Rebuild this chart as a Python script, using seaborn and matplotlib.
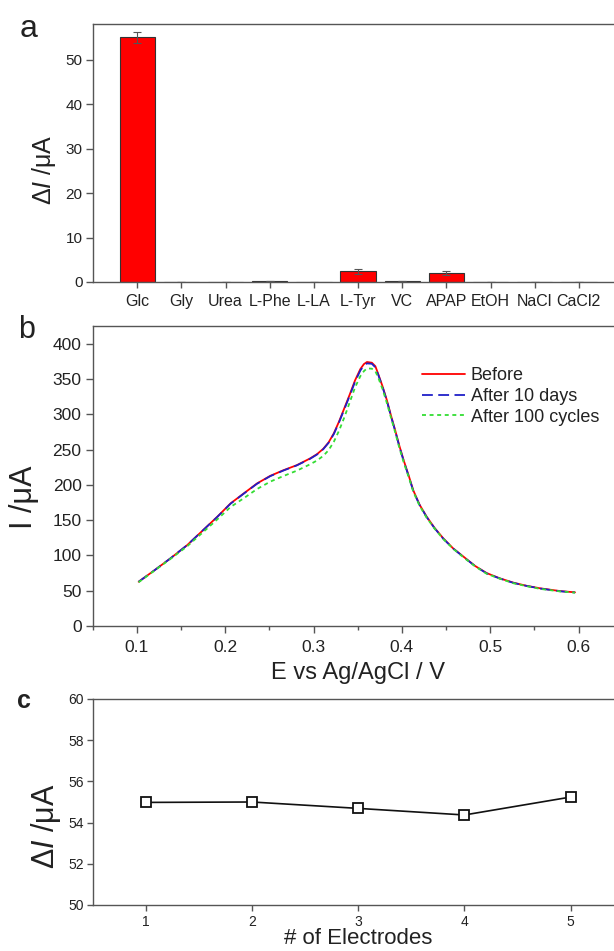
import numpy as np
import pandas as pd
import matplotlib
matplotlib.use("Agg")
import matplotlib.pyplot as plt
import seaborn as sns
from matplotlib.ticker import MultipleLocator

# ---------------- data ----------------
# panel a: selectivity
species = ["Glc", "Gly", "Urea", "L-Phe", "L-LA", "L-Tyr", "VC", "APAP", "EtOH", "NaCl", "CaCl2"]
delta_i = [55.0, 0.1, 0.1, 0.3, 0.1, 2.4, 0.2, 2.0, 0.1, 0.0, 0.0]
delta_i_err = [1.3, 0.0, 0.0, 0.0, 0.0, 0.5, 0.0, 0.4, 0.0, 0.0, 0.0]

# panel b: stability curves
potential = [0.102, 0.120, 0.138, 0.157, 0.175, 0.191, 0.206, 0.221, 0.236, 0.251,
             0.266, 0.281, 0.296, 0.304, 0.311, 0.317, 0.323, 0.329, 0.335, 0.341,
             0.347, 0.353, 0.357, 0.3605, 0.366, 0.370, 0.3735, 0.378, 0.383, 0.3875,
             0.3925, 0.397, 0.402, 0.408, 0.413, 0.420, 0.428, 0.437, 0.447, 0.458,
             0.470, 0.483, 0.496, 0.511, 0.5265, 0.541, 0.557, 0.579, 0.596]
current_before = [62.7, 79.0, 95.8, 114.6, 135.8, 154.7, 173.6, 187.8, 201.9, 212.7,
                  220.7, 227.8, 237.3, 243.5, 251.0, 260.0, 273.0, 290.0, 309.0, 328.0,
                  348.0, 364.0, 371.0, 374.0, 373.0, 368.0, 356.0, 340.0, 320.0, 299.0,
                  277.0, 256.0, 235.0, 212.0, 192.0, 172.0, 155.0, 139.0, 124.0, 110.0,
                  98.0, 85.0, 75.0, 67.5, 61.3, 57.0, 53.3, 49.5, 47.7]
current_10days = [62.7, 79.0, 95.8, 114.6, 135.8, 154.5, 173.2, 187.5, 201.5, 212.3,
                  220.3, 227.5, 236.8, 243.0, 250.5, 259.5, 272.0, 289.0, 307.5, 326.5,
                  346.0, 362.0, 369.0, 372.0, 371.5, 366.5, 355.0, 339.0, 319.0, 298.0,
                  276.0, 255.0, 234.0, 211.0, 191.0, 171.5, 154.5, 138.5, 123.5, 109.8,
                  97.5, 84.8, 74.5, 67.2, 61.0, 56.8, 53.0, 49.2, 47.5]
current_100cycles = [62.0, 78.5, 95.0, 113.0, 133.0, 151.0, 168.5, 181.0, 194.0, 204.5,
                     212.5, 220.0, 229.0, 234.5, 241.0, 249.0, 261.0, 277.0, 296.0, 317.0,
                     338.0, 354.0, 361.0, 365.0, 364.5, 361.0, 351.0, 336.0, 316.0, 296.0,
                     274.0, 253.0, 232.0, 210.0, 190.0, 170.5, 153.5, 138.0, 123.0, 109.5,
                     97.0, 84.5, 74.0, 67.0, 60.5, 56.5, 52.5, 49.0, 47.3]

# panel c: reproducibility
electrodes = [1, 2, 3, 4, 5]
delta_i_electrodes = [54.98, 55.0, 54.69, 54.37, 55.24]

# ---------------- style ----------------
sns.set_style("ticks")
plt.rcParams["font.family"] = ["Liberation Sans", "DejaVu Sans"]
plt.rcParams["mathtext.fontset"] = "custom"
plt.rcParams["mathtext.rm"] = "Liberation Sans"
plt.rcParams["mathtext.it"] = "Liberation Sans:italic"
plt.rcParams["axes.edgecolor"] = "#555555"
plt.rcParams["axes.linewidth"] = 1.0
plt.rcParams["xtick.color"] = "#555555"
plt.rcParams["ytick.color"] = "#555555"
plt.rcParams["xtick.labelcolor"] = "#222222"
plt.rcParams["ytick.labelcolor"] = "#222222"
plt.rcParams["text.color"] = "#222222"

W, H = 614, 951
fig = plt.figure(figsize=(W / 100, H / 100), dpi=100)

def box(left, top, width, height):
    return [left / W, 1 - (top + height) / H, width / W, height / H]

# ---------------- panel a ----------------
ax_a = fig.add_axes(box(93, 24, 530, 258))
df_a = pd.DataFrame({"species": species, "delta": delta_i})
sns.barplot(data=df_a, x="species", y="delta", color="#FF0000", saturation=1,
            edgecolor="#333333", linewidth=0.8, width=0.8, ax=ax_a)
ax_a.errorbar(np.arange(len(species)), delta_i, yerr=delta_i_err, fmt="none",
              ecolor="#555555", elinewidth=0.8, capsize=3, capthick=0.8)
ax_a.set_xlim(-1, 11)
ax_a.set_ylim(0, 58)
ax_a.yaxis.set_major_locator(MultipleLocator(10))
ax_a.set_xlabel("")
ax_a.set_ylabel("")
ax_a.tick_params(axis="y", labelsize=11, length=5, width=1, pad=2.5)
ax_a.tick_params(axis="x", labelsize=11.5, length=4, width=1, pad=5)
for s in ax_a.spines.values():
    s.set_visible(True)

# ---------------- panel b ----------------
ax_b = fig.add_axes(box(92.7, 326, 530, 300))
sns.lineplot(x=potential, y=current_before, color="#FF0000", lw=1.3,
             label="Before", ax=ax_b, sort=False)
sns.lineplot(x=potential, y=current_10days, color="#2020C8", lw=1.3,
             label="After 10 days", ax=ax_b, sort=False, linestyle=(0, (6, 3)))
sns.lineplot(x=potential, y=current_100cycles, color="#33DD33", lw=1.3,
             label="After 100 cycles", ax=ax_b, sort=False, linestyle=(0, (2.2, 2)))
ax_b.set_xlim(0.05, 0.65)
ax_b.set_ylim(0, 425)
ax_b.xaxis.set_major_locator(MultipleLocator(0.1))
ax_b.xaxis.set_minor_locator(MultipleLocator(0.05))
ax_b.yaxis.set_major_locator(MultipleLocator(50))
ax_b.set_xticks([0.1, 0.2, 0.3, 0.4, 0.5, 0.6])
ax_b.set_xticklabels(["0.1", "0.2", "0.3", "0.4", "0.5", "0.6"])
ax_b.tick_params(axis="both", which="major", labelsize=12.5, length=5, width=1)
ax_b.tick_params(axis="x", which="major", pad=5)
ax_b.tick_params(axis="y", which="major", pad=3)
ax_b.tick_params(axis="x", which="minor", length=3, width=1)
ax_b.set_xlabel("")
ax_b.set_ylabel("")
leg = ax_b.legend(loc="upper left", bbox_to_anchor=(0.621, 0.862), frameon=False,
                  fontsize=13, handlelength=2.4, handletextpad=0.3,
                  labelspacing=0.2, borderpad=0, borderaxespad=0)
for t in leg.get_texts():
    t.set_color("#222222")

# ---------------- panel c ----------------
ax_c = fig.add_axes(box(92.7, 699, 531, 206))
sns.lineplot(x=electrodes, y=delta_i_electrodes, color="#111111", lw=1.2,
             marker="s", markersize=6.5, markerfacecolor="white",
             markeredgecolor="#111111", markeredgewidth=1.3, ax=ax_c)
ax_c.set_xlim(0.5, 5.5)
ax_c.set_ylim(50, 60)
ax_c.xaxis.set_major_locator(MultipleLocator(1))
ax_c.yaxis.set_major_locator(MultipleLocator(2))
ax_c.tick_params(axis="both", labelsize=10, length=4.5, width=1)
ax_c.tick_params(axis="y", pad=2)
ax_c.tick_params(axis="x", pad=3)
ax_c.set_xlabel("")
ax_c.set_ylabel("")

# ---------------- labels ----------------
fig.text(44.5 / W, 1 - 170 / H, r"$\Delta\mathit{I}$ /μA", rotation=90,
         ha="center", va="center", fontsize=18)
fig.text(24 / W, 1 - 497 / H, "I /μA", rotation=90,
         ha="center", va="center", fontsize=22)
fig.text(46 / W, 1 - 826 / H, r"$\Delta\mathit{I}$ /μA", rotation=90,
         ha="center", va="center", fontsize=22)

fig.text(358 / W, 1 - 679 / H, "E vs Ag/AgCl / V", ha="center", va="baseline", fontsize=17)
fig.text(358 / W, 1 - 944 / H, "# of Electrodes", ha="center", va="baseline", fontsize=16)

fig.text(19.6 / W, 1 - 36.7 / H, "a", ha="left", va="baseline", fontsize=23)
fig.text(17.6 / W, 1 - 338.3 / H, "b", ha="left", va="baseline", fontsize=22)
fig.text(16.7 / W, 1 - 708 / H, "c", ha="left", va="baseline", fontsize=18, fontweight="bold")

fig.savefig("out.png", dpi=100, facecolor="white")
